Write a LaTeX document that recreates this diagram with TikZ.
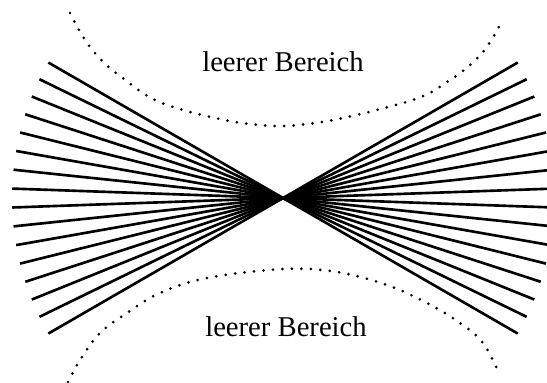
\documentclass[tikz,border=0pt]{standalone}
\usepackage{fontspec}
\setmainfont{Liberation Serif}
\usetikzlibrary{calc}

\tikzset{
  ray/.style={line width=1.5pt},
  border/.style={line width=1.7pt,line cap=round,dash pattern=on 0pt off 0.19cm},
  label/.style={font=\fontsize{16.3}{18}\selectfont,anchor=base}
}

\begin{document}
\begin{tikzpicture}[scale=0.02]
  \useasboundingbox (0,0) rectangle (547,-383);
  \begin{scope}
    \clip (0,0) rectangle (547,-383);
    \coordinate (c) at (283,-198);
    % left fan
    \foreach \a in {2,6,...,30} {
      \draw[ray] (c) -- ++(180+\a:271);
      \draw[ray] (c) -- ++(180-\a:271);
    }
    % right fan
    \foreach \a in {2,6,...,30} {
      \draw[ray] (c) -- ++(\a:271);
      \draw[ray] (c) -- ++(-\a:271);
    }
  \end{scope}
  % dotted borders
  \draw[border] plot[smooth,tension=0.6] coordinates {(70,-13) (90,-47) (120,-76) (173,-107) (283,-126) (403,-103) (450,-80) (483,-52) (503,-19)};
  \draw[border] plot[smooth,tension=0.6] coordinates {(68,-382) (80,-360) (100,-333) (127,-313) (160,-293) (207,-278) (283,-269) (337,-272) (387,-285) (427,-303) (460,-323) (483,-343) (500,-375)};
  \node[label] (top) at (283,-72) {leerer Bereich};
  \node[label] (bottom) at (286,-337) {leerer Bereich};
\end{tikzpicture}
\end{document}
